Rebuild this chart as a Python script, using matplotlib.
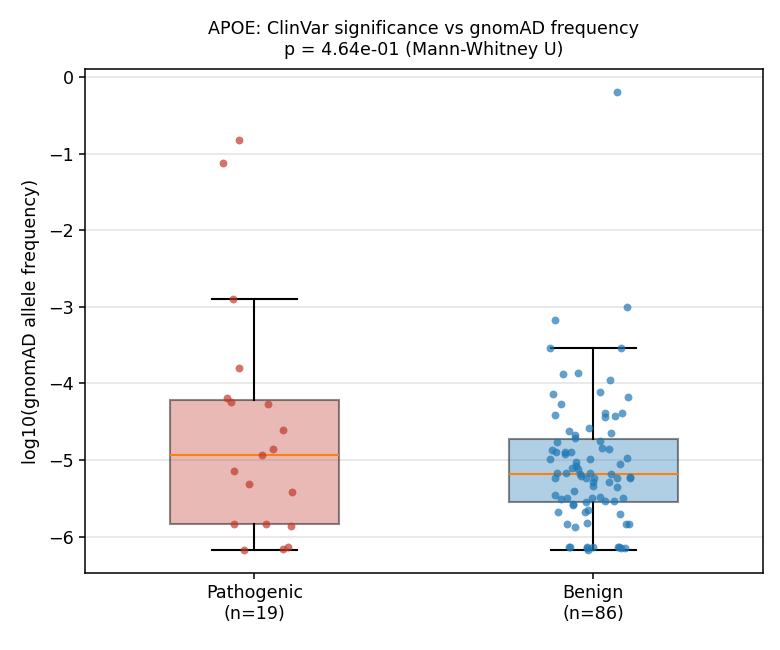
import numpy as np
import matplotlib
matplotlib.use("Agg")
import matplotlib.pyplot as plt

# log10 allele frequencies, with horizontal jitter offsets
path_vals = [-0.82, -1.12, -2.90, -3.80, -4.19, -4.24, -4.27, -4.61, -4.86, -4.93,
             -5.14, -5.31, -5.42, -5.84, -5.84, -5.86, -6.18, -6.16, -6.13]
path_jit = [-0.046, -0.094, -0.064, -0.046, -0.081, -0.069, 0.039, 0.084, 0.054, 0.023,
            -0.059, -0.017, 0.111, -0.059, 0.035, 0.109, -0.031, 0.084, 0.098]

ben_vals = [-0.19, -3.00, -3.17, -3.53, -3.53, -3.88, -3.86, -3.96, -4.11, -4.14,
            -4.18, -4.27, -4.41, -4.39, -4.44, -4.43, -4.38, -4.62, -4.67, -4.71,
            -4.58, -4.65, -4.76, -4.75, -4.84, -4.86, -4.87, -4.90, -4.89, -4.92,
            -4.90, -4.98, -4.98, -4.97, -5.03, -5.05, -5.08, -5.11, -5.12, -5.17,
            -5.17, -5.18, -5.17, -5.18, -5.24, -5.21, -5.23, -5.23, -5.24, -5.23,
            -5.22, -5.29, -5.34, -5.29, -5.35, -5.41, -5.46, -5.51, -5.49, -5.49,
            -5.48, -5.53, -5.53, -5.49, -5.57, -5.55, -5.59, -5.68, -5.68, -5.65,
            -5.71, -5.84, -5.88, -5.82, -5.84, -5.84, -6.13, -6.14, -6.17, -6.13,
            -6.15, -6.15, -6.14, -6.15, -6.14, -6.13]
ben_jit = [0.070, 0.099, -0.113, -0.127, 0.082, -0.090, -0.044, 0.048, 0.020, -0.119,
           0.101, -0.095, -0.112, 0.033, 0.035, 0.065, 0.084, -0.073, -0.055, -0.055,
           -0.013, 0.052, -0.107, 0.019, 0.024, 0.047, -0.122, -0.109, -0.084, -0.085,
           -0.066, -0.127, -0.009, 0.099, -0.050, 0.080, -0.050, -0.062, -0.044, -0.106,
           -0.080, -0.039, -0.009, 0.051, -0.114, -0.037, -0.022, 0.001, 0.071, 0.107,
           0.108, -0.001, -0.001, 0.047, 0.071, -0.056, -0.114, -0.095, -0.079, -0.005,
           0.019, 0.035, 0.062, 0.086, -0.059, -0.022, -0.059, -0.105, -0.026, -0.015,
           0.078, -0.077, -0.054, -0.019, 0.097, 0.104, -0.071, -0.020, -0.016, 0.074,
           0.082, 0.092, -0.068, -0.018, 0.076, 0.000]

groups = ["Pathogenic", "Benign"]
colors = ["#c0392b", "#1f77b4"]
p_value = 4.64e-01

data = [path_vals, ben_vals]
jitter = [path_jit, ben_jit]

fs = 12.6
fig, ax = plt.subplots(figsize=(7.8, 6.5), dpi=100)
fig.subplots_adjust(left=0.109, right=0.978, top=0.894, bottom=0.118)

bp = ax.boxplot(data, positions=[1, 2], widths=0.5, patch_artist=True,
                showfliers=False,
                medianprops=dict(color="#ff7f0e", linewidth=1.5),
                whiskerprops=dict(color="black", linewidth=1.5),
                capprops=dict(color="black", linewidth=1.5))
for patch, c in zip(bp["boxes"], colors):
    patch.set_facecolor(matplotlib.colors.to_rgba(c, 0.35))
    patch.set_edgecolor((0, 0, 0, 0.45))
    patch.set_linewidth(1.5)

for i, (vals, jit, c) in enumerate(zip(data, jitter, colors)):
    xs = i + 1 + np.array(jit)
    ax.scatter(xs, vals, s=32, color=c, alpha=0.7, linewidths=0, zorder=3)

ax.set_xticks([1, 2])
ax.set_xticklabels([f"{g}\n(n={len(d)})" for g, d in zip(groups, data)], fontsize=fs)
ax.tick_params(axis="y", labelsize=fs)
ax.tick_params(width=1.1, length=4.5)
for sp in ax.spines.values():
    sp.set_linewidth(1.1)
ax.set_ylabel("log10(gnomAD allele frequency)", fontsize=fs, labelpad=6)
ax.set_title(f"APOE: ClinVar significance vs gnomAD frequency\np = {p_value:.2e} (Mann-Whitney U)",
             fontsize=fs, pad=10)
ax.yaxis.grid(True, color="#e3e3e3", linewidth=1.1)
ax.set_axisbelow(True)

fig.savefig("out.png", dpi=100)
